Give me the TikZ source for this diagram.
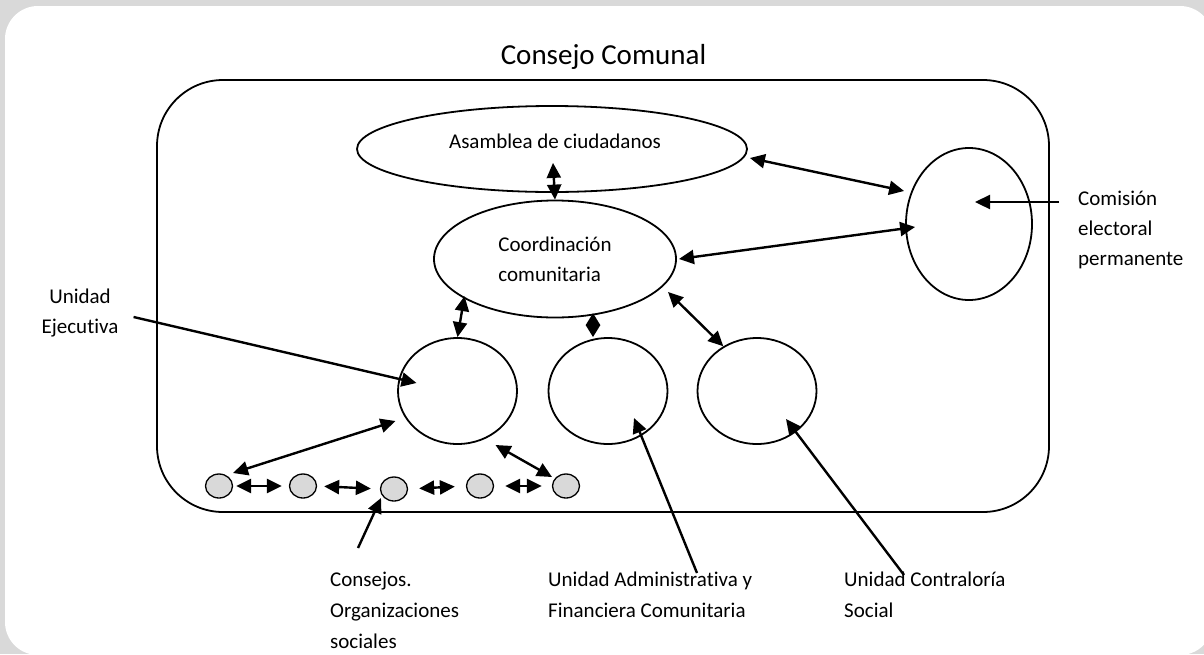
\documentclass[tikz,border=0pt]{standalone}
\usepackage{fontspec}
\setmainfont{Carlito}[RawFeature=-liga]
\usetikzlibrary{arrows.meta,shapes.geometric,calc}
\definecolor{bggray}{HTML}{D9D9D9}
\definecolor{dotgray}{HTML}{D9D9D9}
\begin{document}
\begin{tikzpicture}[x=1pt,y=-1pt,
  ell/.style={draw, line width=1.8pt, ellipse, inner sep=0pt},
  txt/.style={font=\fontsize{21}{30}\selectfont, inner sep=0pt},
  btxt/.style={font=\fontsize{21}{31}\selectfont, inner sep=0pt, align=left, anchor=north west},
  ar/.style={line width=2.4pt, -{Triangle[length=15pt,width=14pt]}},
  dar/.style={line width=2.4pt, {Triangle[length=15pt,width=14pt]}-{Triangle[length=15pt,width=14pt]}},
  dars/.style={line width=2.4pt, {Triangle[length=12pt,width=14pt]}-{Triangle[length=12pt,width=14pt]}},
  dot/.style={draw, line width=1.3pt, fill=dotgray, ellipse, minimum width=27pt, minimum height=24pt, inner sep=0pt}]
\useasboundingbox (0,0) rectangle (1204,654);
\clip (0,0) rectangle (1204,654);
\fill[bggray] (0,0) rectangle (1204,654);
\fill[white, rounded corners=33pt] (5,6) rectangle (1213,655);

% container
\node[draw, line width=1.8pt, rounded corners=66pt, minimum width=892pt, minimum height=432pt, inner sep=0pt] (council) at (603,296) {};
\node[font=\fontsize{29}{35}\selectfont, anchor=base, inner sep=0pt] (title) at (603.5,64) {Consejo Comunal};

% main bodies
\node[ell, minimum width=390pt, minimum height=86pt] (asam) at (552,149) {};
\node[txt] (asamt) at (555,141) {Asamblea de ciudadanos};
\node[ell, txt, align=left, minimum width=242pt, minimum height=117pt] (coord) at (555,259) {Coordinación\\comunitaria};
\node[ell, minimum width=126pt, minimum height=152pt] (comis) at (969,224) {};
\node[ell, minimum width=119pt, minimum height=106pt] (ucirc) at (457.5,391) {};
\node[ell, minimum width=119pt, minimum height=106pt] (acirc) at (608,391) {};
\node[ell, minimum width=119pt, minimum height=106pt] (ccirc) at (757,391) {};

% small circles
\node[dot] (sc1) at (219,486) {};
\node[dot] (sc2) at (303,486) {};
\node[dot] (sc3) at (394,489) {};
\node[dot] (sc4) at (480,486) {};
\node[dot] (sc5) at (566,486) {};

% labels
\node[txt, align=center] (uelab) at (80,313) {Unidad\\Ejecutiva};
\node[txt, align=left, anchor=west] (comlab) at (1078,230) {Comisión\\electoral\\permanente};
\node[btxt] (conslab) at (330,572) {Consejos.\\Organizaciones\\sociales};
\node[btxt] (admlab) at (548,572) {Unidad Administrativa y\\Financiera Comunitaria};
\node[btxt] (contlab) at (844,572) {Unidad Contraloría\\Social};

% connectors
\draw[dar] ($(asam.south)+(1,-30)$) -- (coord.north);
\draw[dar] ($(asam.east)+(2,9)$) -- ($(comis.west)+(-1,-33)$);
\draw[dar] ($(coord.east)+(2,0)$) -- ($(comis.west)+(10,3)$);
\draw[dar] ($(ucirc.north)+(7,-41)$) -- (ucirc.north);
\draw[dars] ($(acirc.north)+(-15,-24)$) -- ($(acirc.north)+(-15,0)$);
\draw[dar] ($(coord.center)+(113,33)$) -- (ccirc.127);
\draw[ar] ($(uelab.east)+(15,4)$) -- ($(ucirc.center)+(-41,-8)$);
\draw[dar] ($(sc1.center)+(14,-13)$) -- ($(ucirc.center)+(-62,30)$);
\draw[dar] ($(ucirc.center)+(38,54)$) -- ($(sc5.center)+(-14,-9)$);
\draw[ar] ($(conslab.north west)+(28,-24)$) -- ($(sc3.center)+(-13,9)$);
\draw[ar] ($(admlab.north west)+(149,1)$) -- ($(acirc.center)+(26,27)$);
\draw[ar] ($(contlab.north west)+(60,3)$) -- ($(ccirc.center)+(29,28)$);
\draw[ar] ($(comlab.west)+(-19,-28)$) -- ($(comis.center)+(6,-22)$);

\draw[dar, shorten <=3pt, shorten >=7pt] (sc1.east) -- (sc2.west);
\draw[dar, shorten <=7pt, shorten >=9pt] (sc2.east) -- (sc3.west);
\draw[dar, shorten <=11pt, shorten >=11pt] (sc3.east) -- (sc4.west);
\draw[dar, shorten <=11pt, shorten >=10pt] (sc4.east) -- (sc5.west);
\end{tikzpicture}
\end{document}
